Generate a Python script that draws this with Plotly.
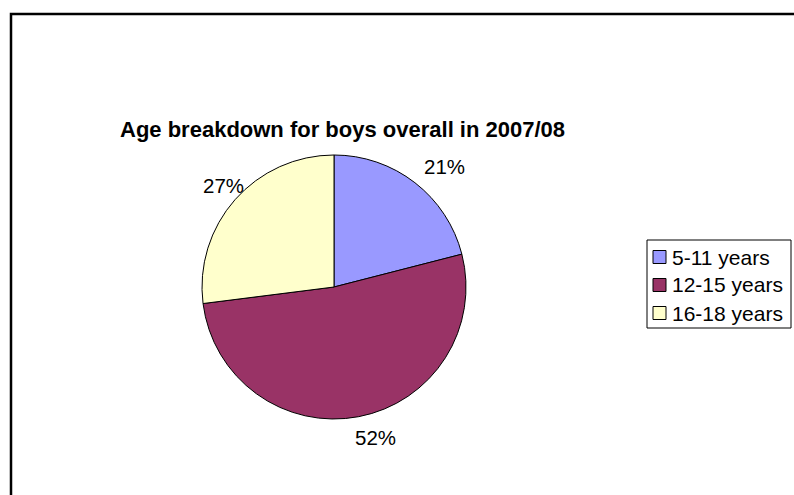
import math
import plotly.graph_objects as go

categories = ["5-11 years", "12-15 years", "16-18 years"]
values = [21, 52, 27]
colors = ["#9999FF", "#993366", "#FFFFCC"]
title_text = "Age breakdown for boys overall in 2007/08"

W, H = 794, 495
FONT = "Liberation Sans, Arial, sans-serif"

def px(x):
    return x / W

def py(y):
    return (H - y) / H

# pie geometry (pixels)
cx, cy, r = 334, 287, 132

fig = go.Figure()
fig.add_trace(go.Pie(
    labels=categories,
    values=values,
    sort=False,
    direction="clockwise",
    rotation=0,
    marker=dict(colors=colors, line=dict(color="black", width=1)),
    textinfo="none",
    hoverinfo="label+percent",
    showlegend=False,
    domain=dict(x=[px(cx - r), px(cx + r)], y=[py(cy + r), py(cy - r)]),
))

# percentage labels placed outside the slices at their mid-angle
total = sum(values)
cum = 0
annotations = []
gap, half_w, half_h, x_shift = 12, 18, 9, 11
for v in values:
    mid = (cum + v / 2) / total * 2 * math.pi
    cum += v
    s, c = math.sin(mid), math.cos(mid)
    lx = cx + (r + gap + half_w) * s + x_shift
    ly = cy - (r + gap + half_h) * c
    annotations.append(dict(
        x=px(lx), y=py(ly), xref="paper", yref="paper",
        text=f"{round(v / total * 100)}%", showarrow=False,
        xanchor="center", yanchor="middle",
        font=dict(family=FONT, size=20.5, color="black"),
    ))

shapes = []
# outer chart border
shapes.append(dict(type="rect", xref="paper", yref="paper",
                   x0=px(11), x1=1.05, y0=-0.05, y1=py(14),
                   line=dict(color="black", width=2.5), fillcolor="rgba(0,0,0,0)"))
# legend box
shapes.append(dict(type="rect", xref="paper", yref="paper",
                   x0=px(647), x1=px(791), y0=py(328), y1=py(240),
                   line=dict(color="black", width=1), fillcolor="white"))
for i, (cat, col) in enumerate(zip(categories, colors)):
    yc = 257 + 28 * i
    shapes.append(dict(type="rect", xref="paper", yref="paper",
                       x0=px(653), x1=px(666), y0=py(yc + 6.5), y1=py(yc - 6.5),
                       line=dict(color="black", width=1), fillcolor=col))
    annotations.append(dict(
        x=px(670), y=py(yc), xref="paper", yref="paper",
        text=cat, showarrow=False, xanchor="left", yanchor="middle",
        font=dict(family=FONT, size=21, color="black"),
    ))

annotations.append(dict(
    x=px(342), y=py(129), xref="paper", yref="paper",
    text=f"<b>{title_text}</b>", showarrow=False,
    xanchor="center", yanchor="middle",
    font=dict(family=FONT, size=22, color="black"),
))

fig.update_layout(
    width=W, height=H,
    margin=dict(l=0, r=0, t=0, b=0),
    paper_bgcolor="white", plot_bgcolor="white",
    annotations=annotations,
    shapes=shapes,
)

fig.write_html(
    "out.html",
    config={"displayModeBar": False},
    post_script="document.body.style.margin='0';document.body.style.overflow='hidden';",
)
